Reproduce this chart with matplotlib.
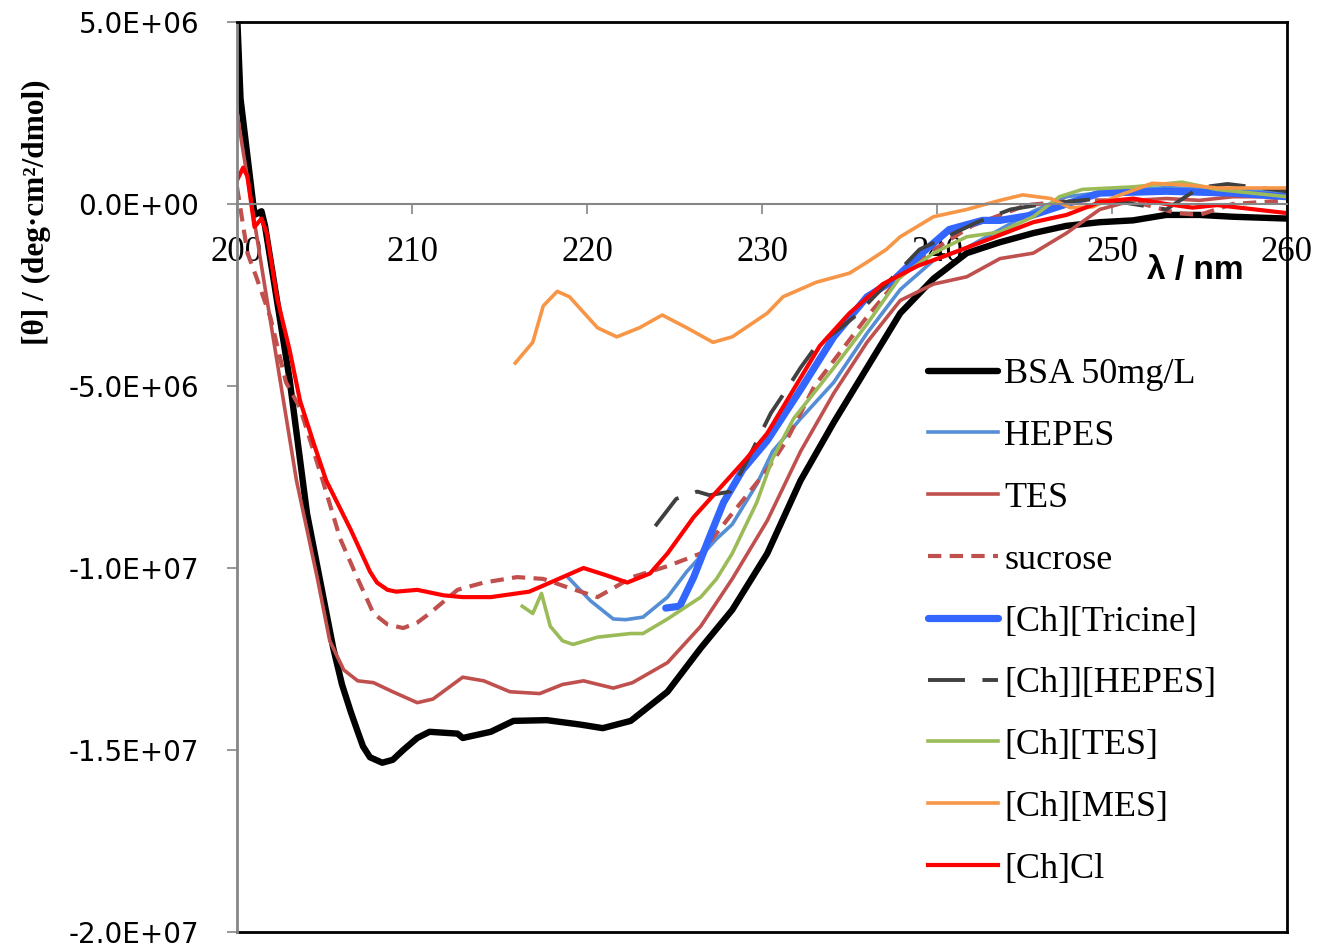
import numpy as np
import matplotlib
matplotlib.use("Agg")
import matplotlib.pyplot as plt
from matplotlib.ticker import FuncFormatter, MultipleLocator

# wavelength (nm) / ellipticity (1e6 deg cm2/dmol)
bsa_x = [200.0, 200.2, 201.0, 201.4, 201.6, 203.0, 204.0, 205.5, 206.0, 206.5, 206.9,
         207.2, 207.6, 208.3, 208.9, 209.5, 210.3, 211.0, 212.6, 212.9, 214.5, 215.8,
         217.7, 219.6, 220.9, 222.5, 224.6, 226.5, 228.3, 230.3, 232.2, 234.1, 236.0,
         237.9, 239.8, 241.7, 243.6, 245.5, 247.4, 249.3, 251.2, 253.1, 255.0, 256.9, 260.0]
bsa_y = [5.3, 2.9, -0.3, -0.2, -0.6, -4.8, -8.5, -12.2, -13.2, -13.95, -14.5,
         -14.9, -15.2, -15.35, -15.27, -15.0, -14.67, -14.5, -14.55, -14.67, -14.5, -14.2,
         -14.18, -14.3, -14.4, -14.2, -13.4, -12.2, -11.15, -9.6, -7.6, -6.0, -4.5,
         -3.0, -2.05, -1.35, -1.05, -0.8, -0.6, -0.5, -0.45, -0.3, -0.3, -0.35, -0.4]

hepes_x = [218.9, 220.2, 221.5, 222.2, 223.2, 224.6, 225.7, 227.4, 228.3, 229.7, 230.6,
           232.2, 234.1, 236.0, 237.9, 239.8, 241.7, 243.6, 245.5, 247.4, 250.0, 253.1,
           256.0, 260.0]
hepes_y = [-10.25, -10.9, -11.4, -11.42, -11.35, -10.8, -10.1, -9.2, -8.8, -7.7, -6.8,
           -5.9, -4.9, -3.55, -2.35, -1.55, -1.2, -0.7, -0.2, 0.2, 0.35, 0.45,
           0.4, 0.35]

tes_x = [200.0, 201.5, 203.4, 204.6, 205.3, 206.1, 206.9, 207.8, 208.9, 210.3, 211.2,
         212.9, 214.1, 215.6, 217.3, 218.6, 219.8, 221.5, 222.6, 224.6, 226.5, 228.3,
         230.3, 232.2, 234.1, 236.0, 237.9, 239.8, 241.7, 243.6, 245.5, 247.4, 249.3,
         251.2, 253.1, 255.0, 256.9, 260.0]
tes_y = [2.5, -2.0, -7.6, -10.3, -12.0, -12.8, -13.1, -13.15, -13.4, -13.7, -13.6,
         -13.0, -13.1, -13.4, -13.45, -13.2, -13.1, -13.3, -13.15, -12.6, -11.6, -10.3,
         -8.7, -6.8, -5.2, -3.8, -2.65, -2.2, -2.0, -1.5, -1.35, -0.8, -0.15,
         0.1, 0.15, 0.1, 0.2, 0.2]

sucrose_x = [200.0, 200.6, 201.1, 201.9, 202.8, 203.6, 204.9, 205.9, 206.9, 207.8, 208.6,
             209.5, 210.3, 211.0, 212.6, 214.1, 216.0, 217.5, 219.0, 220.6, 222.6, 224.6,
             226.5, 228.3, 230.3, 231.4, 233.0, 236.0, 237.9, 240.0, 242.0, 245.1, 248.0,
             251.0, 253.7, 255.0, 256.9, 260.0]
sucrose_y = [0.47, -1.35, -2.0, -3.1, -4.9, -5.6, -7.6, -9.2, -10.3, -11.25, -11.55,
             -11.65, -11.5, -11.25, -10.6, -10.4, -10.25, -10.3, -10.55, -10.8, -10.25, -9.95,
             -9.6, -8.5, -7.3, -6.5, -5.0, -3.1, -2.0, -1.2, -0.6, -0.03, 0.1,
             0.1, -0.25, -0.3, 0.0, 0.1]

tricine_x = [224.5, 225.3, 226.1, 227.0, 227.8, 228.9, 230.3, 232.2, 234.1, 236.0, 237.5,
             238.9, 240.7, 242.6, 243.6, 245.5, 249.3, 253.1, 256.9, 260.0]
tricine_y = [-11.1, -11.05, -10.25, -9.15, -8.2, -7.3, -6.5, -5.1, -3.65, -2.55, -2.1,
             -1.45, -0.7, -0.45, -0.45, -0.3, 0.3, 0.35, 0.3, 0.2]

chhepes_x = [223.9, 225.1, 226.3, 227.0, 228.2, 229.1, 230.5, 231.4, 232.2, 233.1, 234.5,
             235.4, 237.9, 239.0, 242.3, 244.2, 246.1, 249.3, 251.2, 253.1, 255.0, 256.6, 260.0]
chhepes_y = [-8.85, -8.1, -7.9, -8.0, -7.9, -7.1, -5.75, -5.1, -4.5, -3.9, -3.4,
             -3.05, -1.8, -1.25, -0.5, -0.15, 0.0, 0.15, 0.0, -0.15, 0.45, 0.55, 0.35]

chtes_x = [216.3, 216.9, 217.4, 217.9, 218.6, 219.2, 220.6, 222.5, 223.2, 224.6, 226.5,
           227.4, 228.3, 229.7, 230.6, 231.8, 234.1, 236.0, 237.9, 239.8, 241.7, 243.6,
           245.5, 247.0, 248.3, 251.2, 254.0, 256.0, 260.0]
chtes_y = [-11.05, -11.25, -10.7, -11.6, -12.0, -12.1, -11.9, -11.8, -11.8, -11.4, -10.8,
           -10.3, -9.6, -8.2, -7.0, -5.9, -4.5, -3.3, -2.0, -1.35, -0.9, -0.77,
           -0.35, 0.2, 0.4, 0.47, 0.6, 0.4, 0.2]

chmes_x = [215.9, 216.9, 217.5, 218.3, 219.0, 220.6, 221.7, 223.0, 224.3, 225.7, 227.2,
           228.3, 230.3, 231.2, 233.1, 235.0, 236.0, 237.1, 237.9, 239.8, 241.7, 243.6,
           244.9, 246.5, 247.6, 248.9, 250.2, 252.3, 254.3, 256.0, 260.0]
chmes_y = [-4.37, -3.8, -2.8, -2.4, -2.55, -3.4, -3.65, -3.4, -3.05, -3.4, -3.8,
           -3.65, -3.0, -2.55, -2.15, -1.9, -1.6, -1.25, -0.9, -0.35, -0.15, 0.1,
           0.25, 0.15, -0.1, -0.08, 0.2, 0.57, 0.52, 0.44, 0.44]

chcl_x = [200.0, 200.35, 200.6, 201.0, 201.4, 201.7, 202.3, 203.0, 203.6, 204.4, 205.1,
          206.5, 207.6, 208.0, 208.6, 209.1, 210.3, 211.8, 212.9, 214.5, 216.7, 217.9,
          219.8, 221.1, 222.3, 223.6, 224.6, 226.1, 227.6, 229.1, 230.3, 231.8, 233.3,
          235.0, 236.9, 238.9, 240.6, 241.7, 243.6, 245.5, 247.4, 249.3, 251.2, 253.1,
          254.6, 256.0, 260.0]
chcl_y = [0.65, 1.0, 0.75, -0.63, -0.4, -0.8, -2.6, -4.0, -5.4, -6.6, -7.6,
          -8.95, -10.1, -10.4, -10.6, -10.65, -10.6, -10.75, -10.8, -10.8, -10.65, -10.4,
          -10.0, -10.2, -10.4, -10.15, -9.6, -8.6, -7.8, -7.0, -6.3, -5.1, -3.9,
          -3.0, -2.2, -1.7, -1.4, -1.2, -0.85, -0.5, -0.3, 0.05, 0.15, 0.0,
          -0.1, -0.03, -0.25]

fig = plt.figure(figsize=(13.33, 9.49), dpi=100)
ax = fig.add_axes([237 / 1333, 1 - 932 / 949, 1050 / 1333, 910 / 949])

s = 1e6
ax.plot(bsa_x, np.array(bsa_y) * s, color="black", lw=4.6, label="BSA 50mg/L",
        solid_capstyle="round", solid_joinstyle="round")
ax.plot(hepes_x, np.array(hepes_y) * s, color="#558ED5", lw=2.6, label="HEPES")
ax.plot(tes_x, np.array(tes_y) * s, color="#C0504D", lw=2.6, label="TES")
ax.plot(sucrose_x, np.array(sucrose_y) * s, color="#C0504D", lw=3, label="sucrose",
        dashes=(3.2, 2.0))
ax.plot(tricine_x, np.array(tricine_y) * s, color="#3366FF", lw=5.2, label="[Ch][Tricine]",
        solid_capstyle="round")
ax.plot(chhepes_x, np.array(chhepes_y) * s, color="#404040", lw=2.8, label="[Ch]][HEPES]",
        dashes=(9.5, 4.5))
ax.plot(chtes_x, np.array(chtes_y) * s, color="#9BBB59", lw=2.6, label="[Ch][TES]")
ax.plot(chmes_x, np.array(chmes_y) * s, color="#F79646", lw=2.6, label="[Ch][MES]")
ax.plot(chcl_x, np.array(chcl_y) * s, color="#FF0000", lw=3.0, label="[Ch]Cl")

ax.set_xlim(200, 260)
ax.set_ylim(-2e7, 5e6)
ax.xaxis.set_major_locator(MultipleLocator(10))
ax.yaxis.set_major_locator(MultipleLocator(5e6))
ax.yaxis.set_major_formatter(FuncFormatter(lambda v, p: f"{v:.1E}"))

# axis at y = 0, box frame around plot area
ax.spines["bottom"].set_position(("data", 0))
ax.spines["bottom"].set_color("#868686")
ax.spines["bottom"].set_linewidth(1.5)
ax.spines["left"].set_color("#868686")
ax.spines["left"].set_linewidth(2)
ax.spines["top"].set_linewidth(2)
ax.spines["right"].set_linewidth(2)
ax.plot([0, 1], [0, 0], transform=ax.transAxes, color="black", lw=2, clip_on=False)

ax.tick_params(axis="x", direction="out", length=7, width=1.2, color="#868686",
               pad=16, labelsize=25)
ax.tick_params(axis="y", direction="out", length=7, width=1.2, color="#868686",
               pad=20, labelsize=20)
for lab in ax.get_xticklabels():
    lab.set_fontfamily("Liberation Serif")
for lab in ax.get_yticklabels():
    lab.set_fontfamily("DejaVu Sans")

fig.text(36 / 1333, 1 - 212 / 949, "[θ] / (deg·cm²/dmol)", rotation=90,
         ha="center", va="center", fontsize=22.5, fontweight="bold",
         family="Liberation Serif")
fig.text(1195 / 1333, 1 - 270 / 949, "λ / nm", ha="center", va="center",
         fontsize=24, fontweight="bold", family="Liberation Sans")

ax.legend(loc="upper left", bbox_to_anchor=(928 / 1333, 1 - 358 / 949),
          bbox_transform=fig.transFigure, frameon=False, borderpad=0,
          borderaxespad=0, handlelength=1.93, handletextpad=0.18, labelspacing=0.79,
          prop={"family": "Liberation Serif", "size": 26})

fig.savefig("out.png", dpi=100)
